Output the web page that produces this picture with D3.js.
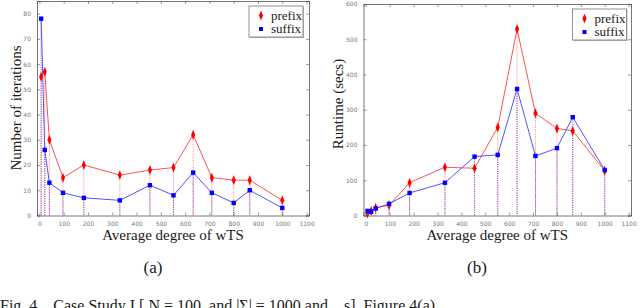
<!DOCTYPE html>
<html>
<head>
<meta charset="utf-8">
<script src="https://cdn.jsdelivr.net/npm/d3@7"></script>
<style>
body { margin: 0; background: #fff; }
svg { display: block; }
</style>
</head>
<body>
<svg id="fig" width="640" height="308"></svg>
<script>
// Average degree of wTS (shared x values of both panels)
const DEGREE = [7, 22, 41, 97, 183, 331, 455, 552, 633, 710, 800, 866, 1000];

// (a) number of iterations
const ITER_PREFIX = [55, 57, 30, 15, 20, 16, 18, 19, 32, 15, 14, 14, 6];
const ITER_SUFFIX = [78, 26, 13, 9, 7, 6, 12, 8, 17, 9, 5, 10, 3];

// (b) runtime in seconds
const TIME_PREFIX = [6, 13, 22, 29, 93, 137, 134, 250, 529, 290, 247, 240, 127];
const TIME_SUFFIX = [13, 11, 20, 33, 64, 93, 167, 172, 359, 169, 191, 279, 129];

const X_TICKS = [0, 100, 200, 300, 400, 500, 600, 700, 800, 900, 1000, 1100];
const ITER_TICKS = [0, 10, 20, 30, 40, 50, 60, 70, 80];
const TIME_TICKS = [0, 100, 200, 300, 400, 500, 600];

const SERIES_NAMES = ["prefix", "suffix"];
const RED = "#ff0000";
const BLUE = "#0000ff";
const SERIF = "Liberation Serif";
const SANS = "DejaVu Sans";

const svg = d3.select("#fig");

//Serif text helper
function serif_text(parent, size)
{
	return parent.append("text")
		.attr("font-family", SERIF)
		.attr("font-size", size)
		.attr("fill", "#1a1a1a");
}

//Draw one panel
function draw_panel(cfg)
{
	const x = d3.scaleLinear().domain([-10, 1110]).range([cfg.left, cfg.right]);
	const y = d3.scaleLinear().domain(cfg.y_domain).range([cfg.bottom, cfg.top]);
	const g = svg.append("g");

	//Dotted drop lines
	const drops = [[cfg.prefix, "#ff6e6e"], [cfg.suffix, "#7438e0"]];
	for (const [vals, col] of drops)
	{
		g.selectAll(null).data(vals).enter().append("line")
			.attr("x1", (d, i) => x(DEGREE[i]))
			.attr("x2", (d, i) => x(DEGREE[i]))
			.attr("y1", d => y(d))
			.attr("y2", y(0))
			.attr("stroke", col)
			.attr("stroke-width", 0.9)
			.attr("stroke-dasharray", "1,1.3");
	}

	//Series lines
	const line = d3.line().x((d, i) => x(DEGREE[i])).y(d => y(d));
	g.append("path").attr("d", line(cfg.prefix)).attr("fill", "none")
		.attr("stroke", "#ff4040").attr("stroke-width", 0.9);
	g.append("path").attr("d", line(cfg.suffix)).attr("fill", "none")
		.attr("stroke", "#4040ff").attr("stroke-width", 0.9);

	//Markers
	const diamond = d3.symbol().type(d3.symbolDiamond).size(20);
	g.selectAll(null).data(cfg.prefix).enter().append("path")
		.attr("d", diamond)
		.attr("transform", (d, i) => "translate(" + x(DEGREE[i]) + "," + y(d) + ") scale(0.85,1.2)")
		.attr("fill", RED);
	g.selectAll(null).data(cfg.suffix).enter().append("rect")
		.attr("x", (d, i) => x(DEGREE[i]) - 2.2)
		.attr("y", d => y(d) - 2.2)
		.attr("width", 4.4).attr("height", 4.4)
		.attr("fill", BLUE);

	//Axes box with inward ticks on all sides
	const ax_col = "#555";
	const tick_len = 3;
	const fmt = d3.format("d");
	const xb = d3.axisBottom(x).tickValues(X_TICKS).tickSize(-tick_len).tickPadding(6).tickFormat(fmt);
	const xt = d3.axisTop(x).tickValues(X_TICKS).tickSize(-tick_len).tickFormat("");
	const yl = d3.axisLeft(y).tickValues(cfg.y_ticks).tickSize(-tick_len).tickPadding(6).tickFormat(fmt);
	const yr = d3.axisRight(y).tickValues(cfg.y_ticks).tickSize(-tick_len).tickFormat("");
	const axes = [
		[xb, "translate(0," + cfg.bottom + ")"],
		[xt, "translate(0," + cfg.top + ")"],
		[yl, "translate(" + cfg.left + ",0)"],
		[yr, "translate(" + cfg.right + ",0)"]
	];
	for (const [ax, tr] of axes)
	{
		const a = g.append("g").attr("transform", tr).call(ax)
			.attr("font-family", SANS).attr("font-size", 6);
		a.select(".domain").attr("stroke", ax_col).attr("stroke-width", 0.8);
		a.selectAll(".tick line").attr("stroke", ax_col).attr("stroke-width", 0.6);
		a.selectAll(".tick text").attr("fill", "#777");
	}

	//Axis labels
	serif_text(g, 15)
		.attr("x", (cfg.left + cfg.right) / 2).attr("y", 240)
		.attr("text-anchor", "middle")
		.text("Average degree of wTS");
	serif_text(g, 15)
		.attr("transform", "translate(" + cfg.ylab_x + "," + cfg.ylab_y + ") rotate(-90)")
		.attr("text-anchor", "middle")
		.text(cfg.ylabel);
	serif_text(g, 17)
		.attr("x", cfg.sub_x).attr("y", 273)
		.attr("text-anchor", "middle")
		.text(cfg.sub);

	//Legend
	const lg = g.append("g").attr("transform", "translate(" + cfg.leg_x + "," + cfg.leg_y + ")");
	lg.append("rect").attr("x", 1).attr("y", 1).attr("width", 54).attr("height", 31)
		.attr("fill", "#bbb");
	lg.append("rect").attr("width", 54).attr("height", 31)
		.attr("fill", "#fff").attr("stroke", "#777").attr("stroke-width", 0.8);
	SERIES_NAMES.forEach((name, i) =>
	{
		const yy = 9.5 + i * 13.5;
		if (i == 0)
			lg.append("path").attr("d", diamond)
				.attr("transform", "translate(12," + yy + ") scale(0.85,1.2)")
				.attr("fill", RED);
		else
			lg.append("rect").attr("x", 10).attr("y", yy - 2).attr("width", 4).attr("height", 4)
				.attr("fill", BLUE);
		serif_text(lg, 13)
			.attr("x", 22).attr("y", yy + 4)
			.text(name);
	});
}

draw_panel({
	left: 37, right: 309, top: 1, bottom: 215.5,
	y_domain: [0, 85], y_ticks: ITER_TICKS,
	prefix: ITER_PREFIX, suffix: ITER_SUFFIX,
	ylabel: "Number of iterations", ylab_x: 21, ylab_y: 108,
	sub: "(a)", sub_x: 153,
	leg_x: 249, leg_y: 6
});

draw_panel({
	left: 363.5, right: 631, top: 4, bottom: 215.5,
	y_domain: [0, 600], y_ticks: TIME_TICKS,
	prefix: TIME_PREFIX, suffix: TIME_SUFFIX,
	ylabel: "Runtime (secs)", ylab_x: 343, ylab_y: 104,
	sub: "(b)", sub_x: 477,
	leg_x: 572.5, leg_y: 9
});

//Caption, cut off by the bottom edge
serif_text(svg, 16)
	.attr("x", 0).attr("y", 311)
	.attr("xml:space", "preserve")
	.text("Fig. 4.   Case Study I [ N = 100, and |\u03A3| = 1000 and ...s]. Figure 4(a)");
</script>
</body>
</html>
